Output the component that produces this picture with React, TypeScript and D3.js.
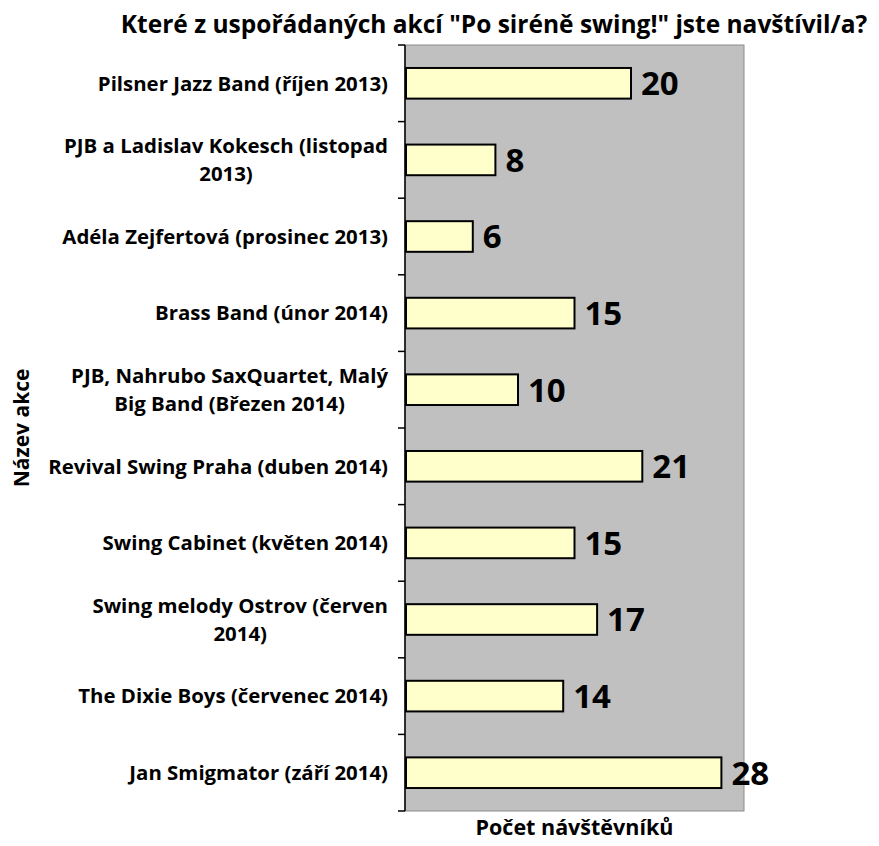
import { useRef, useEffect } from 'react';
import * as d3 from 'd3';

const title = 'Které z uspořádaných akcí "Po siréně swing!" jste navštívil/a?';
const xTitle = 'Počet návštěvníků';
const yTitle = 'Název akce';

// line breaks follow the wrapped labels of the original
const categories = [
  'Pilsner Jazz Band (říjen 2013)',
  'PJB a Ladislav Kokesch (listopad\n2013)',
  'Adéla Zejfertová (prosinec 2013)',
  'Brass Band (únor 2014)',
  'PJB, Nahrubo SaxQuartet, Malý\nBig Band (Březen 2014)',
  'Revival Swing Praha (duben 2014)',
  'Swing Cabinet (květen 2014)',
  'Swing melody Ostrov (červen\n2014)',
  'The Dixie Boys (červenec 2014)',
  'Jan Smigmator (září 2014)',
];
const values = [20, 8, 6, 15, 10, 21, 15, 17, 14, 28];
const xMax = 30;

const W = 879;
const H = 846;
const FONT = '"Open Sans", Lato, sans-serif';

const App = () => {
  const svgRef = useRef<SVGSVGElement | null>(null);

  useEffect(() => {
    const svg = d3.select(svgRef.current);
    svg.selectAll('*').remove();

    const plot = { left: 405, right: 744, top: 45, bottom: 811 };

    const x = d3.scaleLinear().domain([0, xMax]).range([plot.left, plot.right]);
    const y = d3.scaleBand<number>()
      .domain(d3.range(categories.length))
      .range([plot.top, plot.bottom])
      .paddingInner(0.6)
      .paddingOuter(0.3);

    svg.append('rect')
      .attr('x', plot.left)
      .attr('y', plot.top)
      .attr('width', plot.right - plot.left)
      .attr('height', plot.bottom - plot.top)
      .attr('fill', '#c0c0c0')
      .attr('stroke', '#8c8c8c')
      .attr('stroke-width', 1);

    // bars
    svg.selectAll('.bar')
      .data(values)
      .enter()
      .append('rect')
      .attr('class', 'bar')
      .attr('x', x(0) + 1)
      .attr('y', (_, i) => y(i)!)
      .attr('width', d => x(d) - x(0) - 1)
      .attr('height', y.bandwidth())
      .attr('fill', '#ffffcc')
      .attr('stroke', '#000')
      .attr('stroke-width', 2);

    // value labels
    svg.selectAll('.val')
      .data(values)
      .enter()
      .append('text')
      .attr('class', 'val')
      .attr('x', d => x(d) + 10)
      .attr('y', (_, i) => y(i)! + y.bandwidth() / 2)
      .attr('dy', '0.36em')
      .style('font-family', FONT)
      .style('font-weight', 'bold')
      .style('font-size', '33px')
      .attr('fill', '#000')
      .text(d => d);

    // category axis
    const step = y.step();
    const axis = svg.append('g');
    axis.append('line')
      .attr('x1', plot.left).attr('x2', plot.left)
      .attr('y1', plot.top).attr('y2', plot.bottom)
      .attr('stroke', '#000').attr('stroke-width', 1.5);
    axis.selectAll('.tick')
      .data(d3.range(categories.length + 1))
      .enter()
      .append('line')
      .attr('x1', plot.left - 7).attr('x2', plot.left)
      .attr('y1', i => plot.top + i * step)
      .attr('y2', i => plot.top + i * step)
      .attr('stroke', '#000').attr('stroke-width', 1.5);

    const labelRight = 388;
    const lineH = 28;
    categories.forEach((cat, i) => {
      const lines = cat.split('\n');
      const cy = y(i)! + y.bandwidth() / 2;
      const t = svg.append('text')
        .attr('text-anchor', 'middle')
        .style('font-family', FONT)
        .style('font-weight', 'bold')
        .style('font-size', '20.4px')
        .attr('fill', '#000');
      lines.forEach((ln, j) => {
        t.append('tspan')
          .attr('y', cy + (j - (lines.length - 1) / 2) * lineH)
          .attr('dy', '0.36em')
          .text(ln);
      });
      const widths = t.selectAll<SVGTSpanElement, unknown>('tspan').nodes().map(n => n.getComputedTextLength());
      const cx = labelRight - (d3.max(widths) ?? 0) / 2;
      t.selectAll('tspan').attr('x', cx);
    });

    // titles
    svg.append('text')
      .attr('x', 494)
      .attr('y', 33)
      .attr('text-anchor', 'middle')
      .style('font-family', FONT)
      .style('font-weight', 'bold')
      .style('font-size', '24.5px')
      .text(title);

    svg.append('text')
      .attr('x', (plot.left + plot.right) / 2)
      .attr('y', 835)
      .attr('text-anchor', 'middle')
      .style('font-family', FONT)
      .style('font-weight', 'bold')
      .style('font-size', '21.5px')
      .text(xTitle);

    svg.append('text')
      .attr('transform', `translate(29,${(plot.top + plot.bottom) / 2}) rotate(-90)`)
      .attr('text-anchor', 'middle')
      .style('font-family', FONT)
      .style('font-weight', 'bold')
      .style('font-size', '21px')
      .text(yTitle);
  }, []);

  return (
    <svg ref={svgRef} width={W} height={H} style={{ position: 'absolute', left: 0, top: 0, background: '#fff' }} />
  );
};

export default App;
